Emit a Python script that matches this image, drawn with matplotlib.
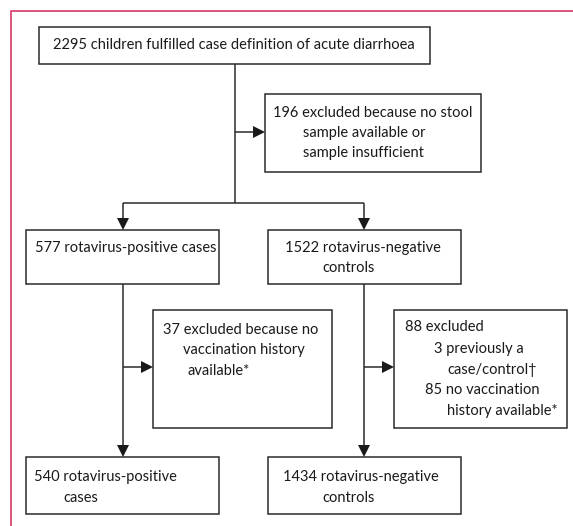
import matplotlib.pyplot as plt
from matplotlib.patches import Rectangle, Polygon

# counts in the flow
n_total = 2295
n_no_stool = 196
n_pos = 577
n_neg = 1522
n_pos_excl = 37
n_neg_excl = 88
n_neg_prev = 3
n_neg_novacc = 85
n_pos_final = 540
n_neg_final = 1434

line_col = '#2b2b2b'
pink = '#d9486f'
fs = 10.5
plt.rcParams['font.family'] = ['Lato', 'DejaVu Sans']

fig = plt.figure(figsize=(5.73, 5.26), dpi=100)
ax = fig.add_axes([0, 0, 1, 1])
ax.set_xlim(0, 573)
ax.set_ylim(526, 0)
ax.axis('off')

# pink frame
ax.plot([11, 11, 573], [526, 10.5, 10.5], color=pink, lw=1.3)


def box(x0, y0, x1, y1):
    ax.add_patch(Rectangle((x0, y0), x1 - x0, y1 - y0, fill=False,
                           ec=line_col, lw=1.1))


def txt(x, y, s):
    ax.text(x, y, s, ha='left', va='center', fontsize=fs, color='#1a1a1a')


def line(xs, ys):
    ax.plot(xs, ys, color=line_col, lw=1.1, solid_capstyle='butt')


def head_down(x, y):
    ax.add_patch(Polygon([(x - 6, y - 12), (x + 6, y - 12), (x, y)],
                         closed=True, fc='#1a1a1a', ec='none'))


def head_right(x, y):
    ax.add_patch(Polygon([(x - 12, y - 6), (x - 12, y + 6), (x, y)],
                         closed=True, fc='#1a1a1a', ec='none'))


# boxes
box(39, 27, 430, 64)
box(265, 94, 481, 172)
box(26, 230, 219, 284)
box(268, 230, 461, 284)
box(153, 310, 332, 428)
box(394, 310, 567, 428)
box(26, 457, 219, 514)
box(268, 457, 461, 514)

# connectors
line([235, 235], [64, 203])
line([235, 253], [132, 132]); head_right(265, 132)
line([123, 364], [203, 203])
line([123, 123], [203, 218]); head_down(123, 230)
line([364, 364], [203, 218]); head_down(364, 230)
line([123, 123], [284, 445]); head_down(123, 457)
line([364, 364], [284, 445]); head_down(364, 457)
line([123, 141], [367, 367]); head_right(153, 367)
line([364, 382], [367, 367]); head_right(394, 367)

# texts
txt(53, 45, f'{n_total} children fulfilled case definition of acute diarrhoea')
txt(273, 113, f'{n_no_stool} excluded because no stool')
txt(303, 133, 'sample available or')
txt(303, 153, 'sample insufficient')
txt(35, 248, f'{n_pos} rotavirus-positive cases')
txt(285, 248, f'{n_neg} rotavirus-negative')
txt(322, 268, 'controls')
txt(163, 330, f'{n_pos_excl} excluded because no')
txt(183, 350, 'vaccination history')
txt(187, 371, 'available*')
txt(405, 327, f'{n_neg_excl} excluded')
txt(434, 349, f'{n_neg_prev} previously a')
txt(447, 370, 'case/control†')
txt(425, 390, f'{n_neg_novacc} no vaccination')
txt(447, 411, 'history available*')
txt(34, 477, f'{n_pos_final} rotavirus-positive')
txt(63, 498, 'cases')
txt(283, 477, f'{n_neg_final} rotavirus-negative')
txt(322, 498, 'controls')

fig.savefig('out.png', dpi=100)
